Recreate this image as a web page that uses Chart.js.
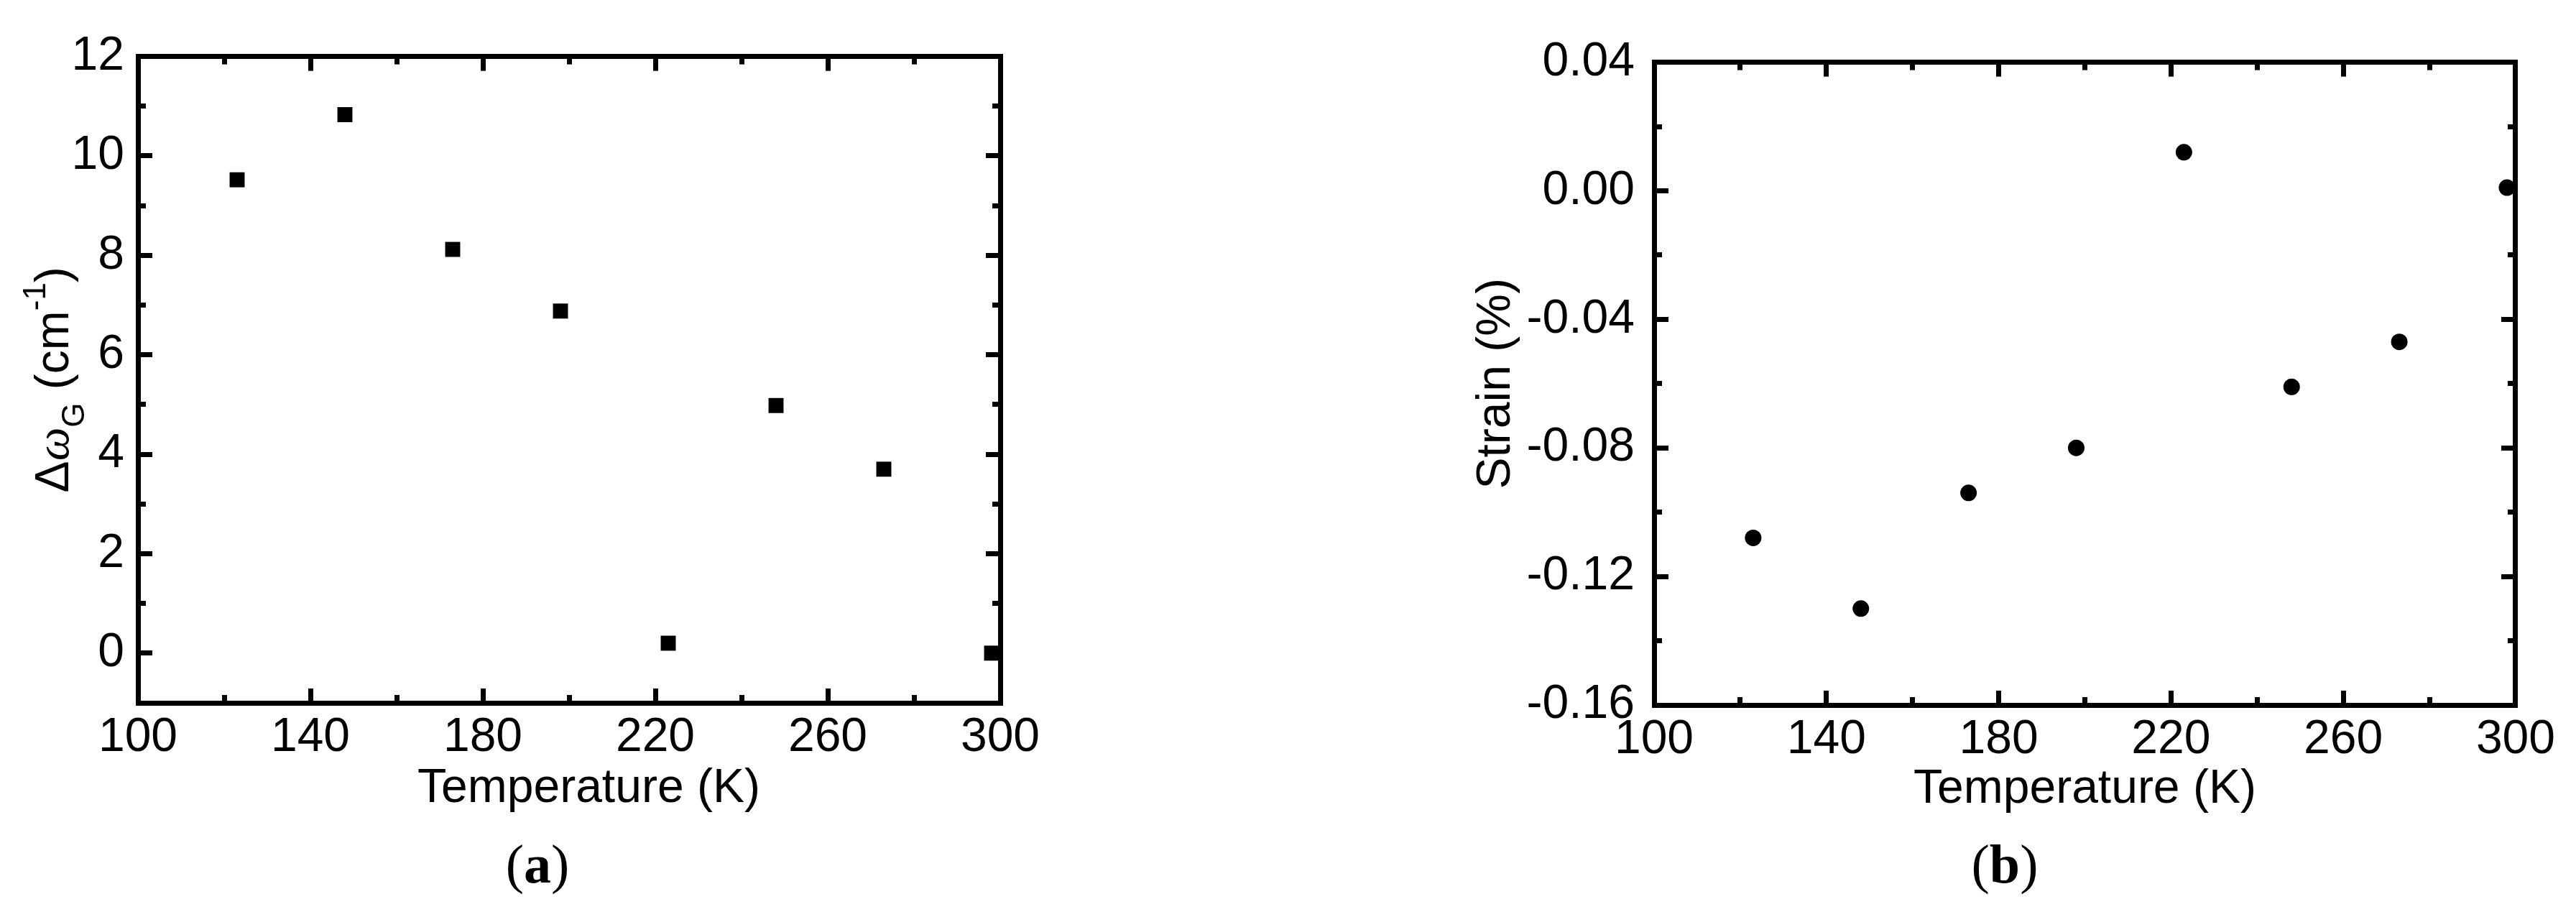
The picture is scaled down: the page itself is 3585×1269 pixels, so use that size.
<!DOCTYPE html>
<html>
<head>
<meta charset="utf-8">
<script src="https://cdn.jsdelivr.net/npm/chart.js@4.4.1/dist/chart.umd.min.js"></script>
<style>
  html, body { margin: 0; padding: 0; background: #fff; }
  body { width: 3585px; height: 1269px; position: relative; overflow: hidden; }
  canvas { position: absolute; top: 0; }
  #chartA { left: 0; }
  #chartB { left: 1792px; }
</style>
</head>
<body>
<canvas id="chartA" width="1792" height="1269"></canvas>
<canvas id="chartB" width="1793" height="1269"></canvas>
<script>
// Temperatures (K), same for both panels
const temperatures = [123, 148, 173, 198, 223, 248, 273, 298];
// (a) shift of the G band, cm-1
const shiftG = [9.52, 10.83, 8.12, 6.88, 0.20, 4.98, 3.70, 0.00];
// (b) strain, %
const strain = [-0.108, -0.130, -0.094, -0.080, 0.012, -0.061, -0.047, 0.001];

// Tick values (major ones carry labels)
const tempTicks = [100, 140, 180, 220, 260, 300];
const tempMinor = [120, 160, 200, 240, 280];
const shiftTicks = [0, 2, 4, 6, 8, 10, 12];
const shiftMinor = [1, 3, 5, 7, 9, 11];
const strainTicks = [-0.16, -0.12, -0.08, -0.04, 0.00, 0.04];
const strainMinor = [-0.14, -0.10, -0.06, -0.02, 0.02];

Chart.defaults.font.family = '"Liberation Sans", Arial, sans-serif';
Chart.defaults.font.size = 66;
Chart.defaults.color = '#000';

const MAJOR = 20, MINOR = 11, LINE = 7;

// Build one axis with inward tick marks on the given values
function axis(position, min, max, values, opts) {
  const horiz = position === 'top' || position === 'bottom';
  return {
    type: 'linear',
    position: position,
    min: min,
    max: max,
    weight: opts.size ? 1 : 0,
    afterBuildTicks: (s) => { s.ticks = values.map((v) => ({ value: v })); },
    afterFit: (s) => {
      if (horiz) s.height = opts.size || 0;
      else s.width = opts.size || 0;
    },
    border: { display: !!opts.border, color: '#000', width: LINE },
    grid: { drawOnChartArea: false, drawTicks: true, tickLength: -opts.len, tickWidth: LINE, tickColor: '#000' },
    ticks: opts.labels
      ? { display: true, autoSkip: false, maxRotation: 0, padding: opts.pad, callback: opts.labels }
      : { display: false },
    title: opts.title
      ? { display: true, text: opts.title, padding: { top: opts.titlePad, bottom: opts.titlePad } }
      : { display: false }
  };
}

// Draw text runs (mixed fonts) centred on cx, on a baseline
function drawRuns(ctx, runs, cx, baseline) {
  let total = 0;
  runs.forEach((r) => { ctx.font = r.font; r.w = ctx.measureText(r.text).width; total += r.w; });
  let x = cx - total / 2;
  ctx.fillStyle = '#000';
  ctx.textAlign = 'left';
  ctx.textBaseline = 'alphabetic';
  runs.forEach((r) => {
    ctx.font = r.font;
    ctx.fillText(r.text, x, baseline + (r.dy || 0));
    x += r.w;
  });
}

function panelLabel(letter, cx) {
  return {
    id: 'panel' + letter,
    afterDraw(chart) {
      const ctx = chart.ctx;
      ctx.save();
      drawRuns(ctx, [
        { text: '(', font: '76px "Liberation Serif"' },
        { text: letter, font: 'bold 76px "Liberation Serif"' },
        { text: ')', font: '76px "Liberation Serif"' }
      ], cx, 1228);
      ctx.restore();
    }
  };
}

// Y title of panel (a): Δω_G (cm^-1)
const shiftTitle = {
  id: 'shiftTitle',
  afterDraw(chart) {
    const ctx = chart.ctx;
    const a = chart.chartArea;
    ctx.save();
    ctx.translate(95, (a.top + a.bottom) / 2);
    ctx.rotate(-Math.PI / 2);
    drawRuns(ctx, [
      { text: '\u0394', font: '66px "Liberation Sans"' },
      { text: '\u03C9', font: 'italic 66px "Liberation Serif"' },
      { text: 'G', font: '44px "Liberation Sans"', dy: 22 },
      { text: ' (cm', font: '66px "Liberation Sans"' },
      { text: '-1', font: '44px "Liberation Sans"', dy: -32 },
      { text: ')', font: '66px "Liberation Sans"' }
    ], 0, 0);
    ctx.restore();
  }
};

const intLabel = (v) => String(v);
const pctLabel = (v) => (Math.abs(v) < 1e-9 ? '0.00' : v.toFixed(2));

// Panel (a)
new Chart(document.getElementById('chartA'), {
  type: 'scatter',
  data: {
    datasets: [{
      data: temperatures.map((t, i) => ({ x: t, y: shiftG[i] })),
      pointStyle: 'rect',
      pointRadius: 14.8,
      pointHoverRadius: 14.8,
      backgroundColor: '#000',
      borderColor: '#000',
      borderWidth: 0,
      showLine: false,
      clip: false
    }]
  },
  options: {
    responsive: false,
    animation: false,
    layout: { padding: { left: 0, right: 400, top: 76, bottom: 0 } },
    plugins: { legend: { display: false }, tooltip: { enabled: false } },
    scales: {
      // title sits a little right of the axis centre in the original
      x: axis('bottom', 100, 300, tempTicks, { size: 291, border: true, len: MAJOR, labels: intLabel, pad: 29, title: '\u00A0\u00A0\u00A0Temperature (K)', titlePad: 132 }),
      xm: axis('bottom', 100, 300, tempMinor, { len: MINOR }),
      x2: axis('top', 100, 300, tempTicks, { border: true, len: MAJOR }),
      x2m: axis('top', 100, 300, tempMinor, { len: MINOR }),
      y: axis('left', -1, 12, shiftTicks, { size: 192, border: true, len: MAJOR, labels: intLabel, pad: 39 }),
      ym: axis('left', -1, 12, shiftMinor, { len: MINOR }),
      y2: axis('right', -1, 12, shiftTicks, { border: true, len: MAJOR }),
      y2m: axis('right', -1, 12, shiftMinor, { len: MINOR })
    }
  },
  plugins: [shiftTitle, panelLabel('a', 748)]
});

// Panel (b)
new Chart(document.getElementById('chartB'), {
  type: 'scatter',
  data: {
    datasets: [{
      data: temperatures.map((t, i) => ({ x: t, y: strain[i] })),
      pointStyle: 'circle',
      pointRadius: 11.5,
      pointHoverRadius: 11.5,
      backgroundColor: '#000',
      borderColor: '#000',
      borderWidth: 0,
      showLine: false,
      clip: false
    }]
  },
  options: {
    responsive: false,
    animation: false,
    layout: { padding: { left: 0, right: 82, top: 79, bottom: 0 } },
    plugins: { legend: { display: false }, tooltip: { enabled: false } },
    scales: {
      x: axis('bottom', 100, 300, tempTicks, { size: 288, border: true, len: MAJOR, labels: intLabel, pad: 29, title: 'Temperature (K)', titlePad: 131 }),
      xm: axis('bottom', 100, 300, tempMinor, { len: MINOR }),
      x2: axis('top', 100, 300, tempTicks, { border: true, len: MAJOR }),
      x2m: axis('top', 100, 300, tempMinor, { len: MINOR }),
      y: axis('left', -0.16, 0.04, strainTicks, { size: 510, border: true, len: MAJOR, labels: pctLabel, pad: 47, title: 'Strain (%)', titlePad: 251 }),
      ym: axis('left', -0.16, 0.04, strainMinor, { len: MINOR }),
      y2: axis('right', -0.16, 0.04, strainTicks, { border: true, len: MAJOR }),
      y2m: axis('right', -0.16, 0.04, strainMinor, { len: MINOR })
    }
  },
  plugins: [panelLabel('b', 998)]
});
</script>
</body>
</html>
